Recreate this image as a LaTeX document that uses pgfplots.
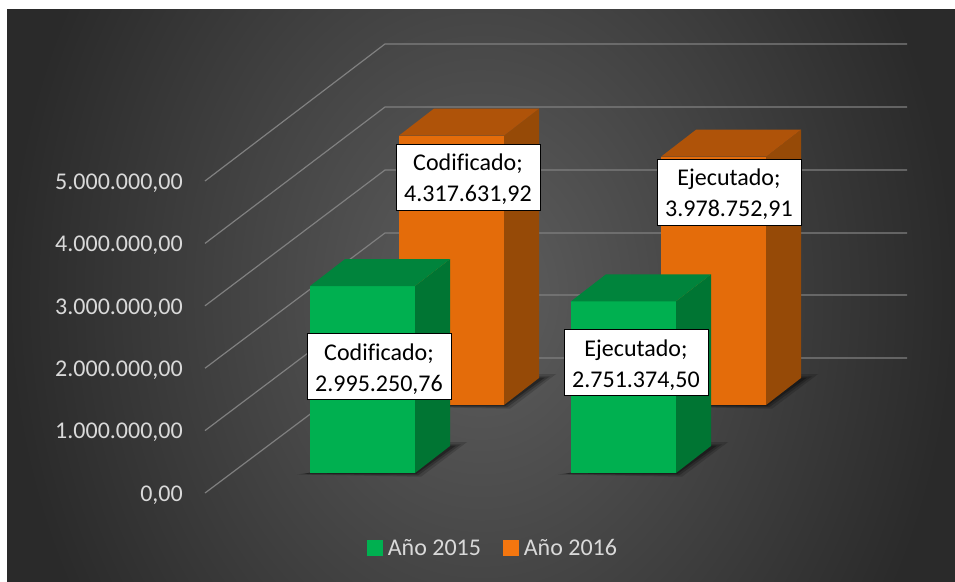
\documentclass[border=0pt]{standalone}
\usepackage{fontspec}
\setmainfont{Carlito}[Ligatures=NoCommon]
\usepackage{pgfplots}
\pgfplotsset{compat=1.18}
\definecolor{grn}{HTML}{00B050}
\definecolor{grnS}{HTML}{007533}
\definecolor{grnT}{HTML}{00843C}
\definecolor{org}{HTML}{E46C0A}
\definecolor{orgS}{HTML}{964A07}
\definecolor{orgT}{HTML}{AF5309}
\definecolor{leggrn}{HTML}{00B050}
\definecolor{legorg}{HTML}{F4760F}
\definecolor{gridc}{HTML}{808080}
\definecolor{txt}{HTML}{D9D9D9}
\definecolor{bgc}{HTML}{5E5E5E}
\definecolor{bge}{HTML}{2A2A2A}
\newcommand{\shadowpoly}[2]{%
  \addplot[forget plot,draw=none,fill=black,fill opacity=0.16,xshift=#1pt,yshift=#2pt]
    coordinates {(297,-25000) (421,-60000) (467,495000) (445,495000) (400,160000) (312,160000) (312,10000)};
  \addplot[forget plot,draw=none,fill=black,fill opacity=0.22,xshift=#1pt,yshift=#2pt]
    coordinates {(301,-18000) (418,-40000) (461,460000) (445,460000) (400,160000) (312,160000) (312,10000)};
  \addplot[forget plot,draw=none,fill=black,fill opacity=0.30,xshift=#1pt,yshift=#2pt]
    coordinates {(305,-10000) (416,-20000) (456,440000) (445,440000) (400,160000) (312,160000) (312,10000)};
}
\begin{document}
\begin{tikzpicture}[x=1pt,y=1pt]
\path[use as bounding box] (0,0) rectangle (955,581);
\fill[white] (0,0) rectangle (955,581);
\begin{scope}
\clip (7,0) rectangle (955,571);
\shade[inner color=bgc,outer color=bge] (7,-314) rectangle (955,886);
\end{scope}
\begin{axis}[
  at={(205pt,88pt)},anchor=south west,
  scale only axis,width=702pt,height=312pt,
  xmin=205,xmax=907,ymin=0,ymax=5000000,
  clip=false,
  axis line style={draw=none},
  tick style={draw=none},
  scaled y ticks=false,
  xtick=\empty,
  ytick={0,1000000,2000000,3000000,4000000,5000000},
  yticklabels={{0,00},{1.000.000,00},{2.000.000,00},{3.000.000,00},{4.000.000,00},{5.000.000,00}},
  yticklabel style={font=\fontsize{24}{29}\selectfont,text=txt,anchor=east,inner sep=0pt,xshift=-22pt,yshift=-2pt},
  legend columns=2,
  legend cell align=left,
  legend style={at={(axis cs:492,-881000)},anchor=center,draw=none,fill=none,
    font=\fontsize{24}{29}\selectfont,text=txt,inner sep=0pt,outer sep=0pt,
    /tikz/every even column/.style={column sep=22pt},
    nodes={inner sep=0pt}},
  legend image code/.code={\fill[#1] (0pt,-7.5pt) rectangle (15pt,7.5pt);},
]
\addlegendimage{leggrn,fill=leggrn}
\addlegendentry{\ Año 2015}
\addlegendimage{legorg,fill=legorg}
\addlegendentry{\ Año 2016}

% grid: side wall and back wall
\pgfplotsset{gridl/.style={forget plot,draw=gridc,line width=1.2pt}}
\addplot[gridl] coordinates {(205,0) (385,2163000) (907,2163000)};
\addplot[gridl] coordinates {(205,1000000) (385,3173000) (907,3173000)};
\addplot[gridl] coordinates {(205,2000000) (385,4167000) (907,4167000)};
\addplot[gridl] coordinates {(205,3000000) (385,5176000) (907,5176000)};
\addplot[gridl] coordinates {(205,4000000) (385,6186000) (907,6186000)};
\addplot[gridl] coordinates {(205,5000000) (385,7196000) (907,7196000)};

% back row: Año 2016
\shadowpoly{89}{88}
\shadowpoly{351}{88}
\addplot[forget plot,draw=none,fill=org,yshift=88pt] coordinates {(399,0) (504,0) (504,4317631.92) (399,4317631.92)};
\addplot[forget plot,draw=none,fill=orgS,yshift=88pt] coordinates {(504,0) (539,432700) (539,4750331.92) (504,4317631.92)};
\addplot[forget plot,draw=none,fill=orgT,yshift=88pt] coordinates {(399,4317631.92) (504,4317631.92) (539,4750331.92) (434,4750331.92)};
\addplot[forget plot,draw=none,fill=org,yshift=88pt] coordinates {(661,0) (766,0) (766,3978752.91) (661,3978752.91)};
\addplot[forget plot,draw=none,fill=orgS,yshift=88pt] coordinates {(766,0) (801,432700) (801,4411452.91) (766,3978752.91)};
\addplot[forget plot,draw=none,fill=orgT,yshift=88pt] coordinates {(661,3978752.91) (766,3978752.91) (801,4411452.91) (696,4411452.91)};

% front row: Año 2015
\shadowpoly{0}{20}
\shadowpoly{261}{20}
\addplot[forget plot,draw=none,fill=grn,yshift=20pt] coordinates {(310,0) (415,0) (415,2995250.76) (310,2995250.76)};
\addplot[forget plot,draw=none,fill=grnS,yshift=20pt] coordinates {(415,0) (450,432700) (450,3427950.76) (415,2995250.76)};
\addplot[forget plot,draw=none,fill=grnT,yshift=20pt] coordinates {(310,2995250.76) (415,2995250.76) (450,3427950.76) (345,3427950.76)};
\addplot[forget plot,draw=none,fill=grn,yshift=20pt] coordinates {(571,0) (676,0) (676,2751374.50) (571,2751374.50)};
\addplot[forget plot,draw=none,fill=grnS,yshift=20pt] coordinates {(676,0) (711,432700) (711,3184074.50) (676,2751374.50)};
\addplot[forget plot,draw=none,fill=grnT,yshift=20pt] coordinates {(571,2751374.50) (676,2751374.50) (711,3184074.50) (606,3184074.50)};

\tikzset{dl/.style={draw=black,line width=0.8pt,fill=white,text=black,align=center,
  minimum width=144pt,minimum height=66pt,inner sep=0pt,
  font=\fontsize{24}{31}\selectfont}}
\node[dl] at (axis cs:379,2027300) {\rule{0pt}{22pt}Codificado;\\2.995.250,76};
\node[dl] at (axis cs:468,5064200) {\rule{0pt}{22pt}Codificado;\\4.317.631,92};
\node[dl] at (axis cs:636,2091400) {\rule{0pt}{22pt}Ejecutado;\\2.751.374,50};
\node[dl] at (axis cs:729,4823800) {\rule{0pt}{22pt}Ejecutado;\\3.978.752,91};
\end{axis}
\end{tikzpicture}
\end{document}
